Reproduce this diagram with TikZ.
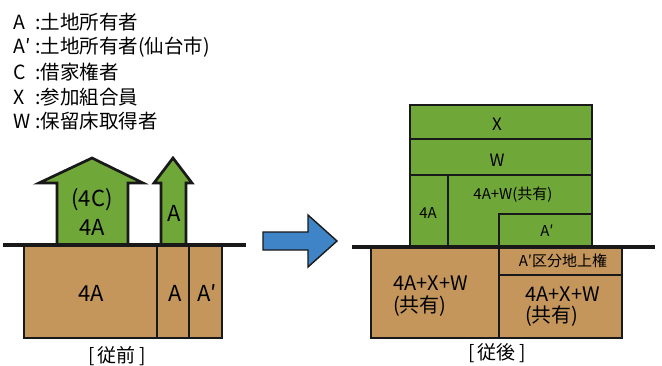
\documentclass[tikz,border=0pt]{standalone}
\usepackage{fontspec}
\setmainfont{Noto Sans CJK JP}
\definecolor{bgreen}{RGB}{112,167,57}
\definecolor{soil}{RGB}{196,150,92}
\definecolor{arrblue}{RGB}{63,132,198}
\tikzset{
  floor/.style={fill=bgreen, draw=black!90, line width=2.7pt},
  lot/.style={fill=soil, draw=black!90, line width=2.7pt},
  ground/.style={draw=black!90, line width=3.2pt},
  leg/.style={anchor=west, inner sep=0pt, font=\fontsize{19.5}{20}\selectfont},
  lbl/.style={inner sep=0pt, align=center, font=\fontsize{22}{29}\selectfont},
  slbl/.style={inner sep=0pt, align=center, font=\fontsize{15}{17}\selectfont},
  stage/.style={inner sep=0pt, font=\fontsize{19}{20}\selectfont},
}
\newcommand{\who}[1]{\makebox[22pt][l]{#1}}
\begin{document}
\begin{tikzpicture}[x=1pt, y=-1pt]
  \useasboundingbox (0,0) rectangle (662,365);
  % legend
  \node[leg] (lA)  at (13,22)  {\who{A}:土地所有者};
  \node[leg] (lA2) at (13,47)  {\who{A′}:土地所有者(仙台市)};
  \node[leg] (lC)  at (13,72)  {\who{C}:借家権者};
  \node[leg] (lX)  at (13,97)  {\who{X}:参加組合員};
  \node[leg] (lW)  at (13,121) {\who{W}:保留床取得者};

  % before
  \draw[lot] (24,245) rectangle (222,338);
  \draw[lot] (157,245) -- (157,338) (189,245) -- (189,338);
  \fill[bgreen] (57,245) -- (57,183) -- (39,183) -- (92,158) -- (143,183) -- (128,183) -- (128,245) -- cycle;
  \draw[black!90, line width=2.7pt] (57,245) -- (57,183) -- (39,183) -- (92,158) -- (143,183) -- (128,183) -- (128,245);
  \fill[bgreen] (161,245) -- (161,183) -- (154,183) -- (173,158) -- (192,183) -- (186,183) -- (186,245) -- cycle;
  \draw[black!90, line width=2.7pt] (161,245) -- (161,183) -- (154,183) -- (173,158) -- (192,183) -- (186,183) -- (186,245);
  \draw[ground] (3,245) -- (246,245);
  \node[lbl] (house) at (92,212) {(4C)\\4A};
  \node[lbl] (tower) at (174,213) {A};
  \node[lbl] (g4A) at (91,293) {4A};
  \node[lbl] (gA) at (175,293) {A};
  \node[lbl] (gA2) at (207,293) {A′};
  \node[stage] (before) at (117,356) {[\,従前\,]};

  % arrow
  \draw[fill=arrblue, draw=black!90, line width=1.4pt] (263,232) -- (308,232) -- (308,215) -- (337,241) -- (308,267) -- (308,250) -- (263,250) -- cycle;

  % after
  \draw[lot] (371,247) rectangle (622,338);
  \draw[lot] (499,247) -- (499,338) (499,275) -- (622,275);
  \draw[floor] (410,105) rectangle (592,139);
  \draw[floor] (410,139) rectangle (592,175);
  \draw[floor] (410,175) rectangle (448,247);
  \draw[floor] (448,175) rectangle (592,247);
  \draw[floor] (499,214) rectangle (592,247);
  \draw[ground] (352,247) -- (655,247);
  \node[slbl, font=\fontsize{17}{19}\selectfont] (fX) at (497,124) {X};
  \node[slbl, font=\fontsize{17}{19}\selectfont] (fW) at (497,160) {W};
  \node[slbl] (f4A) at (428,213) {4A};
  \node[slbl] (fshare) at (513,195) {4A+W(共有)};
  \node[slbl] (fA2) at (547,231) {A′};
  \node[slbl] (sub) at (563,261) {A′区分地上権};
  \node[lbl, anchor=west, align=left, font=\fontsize{20}{22}\selectfont] (gL) at (393,296) {4A+X+W\\(共有)};
  \node[lbl, anchor=west, align=left, font=\fontsize{20}{21}\selectfont] (gR) at (525,307) {4A+X+W\\(共有)};
  \node[stage] (after) at (497,353) {[\,従後\,]};
\end{tikzpicture}
\end{document}
